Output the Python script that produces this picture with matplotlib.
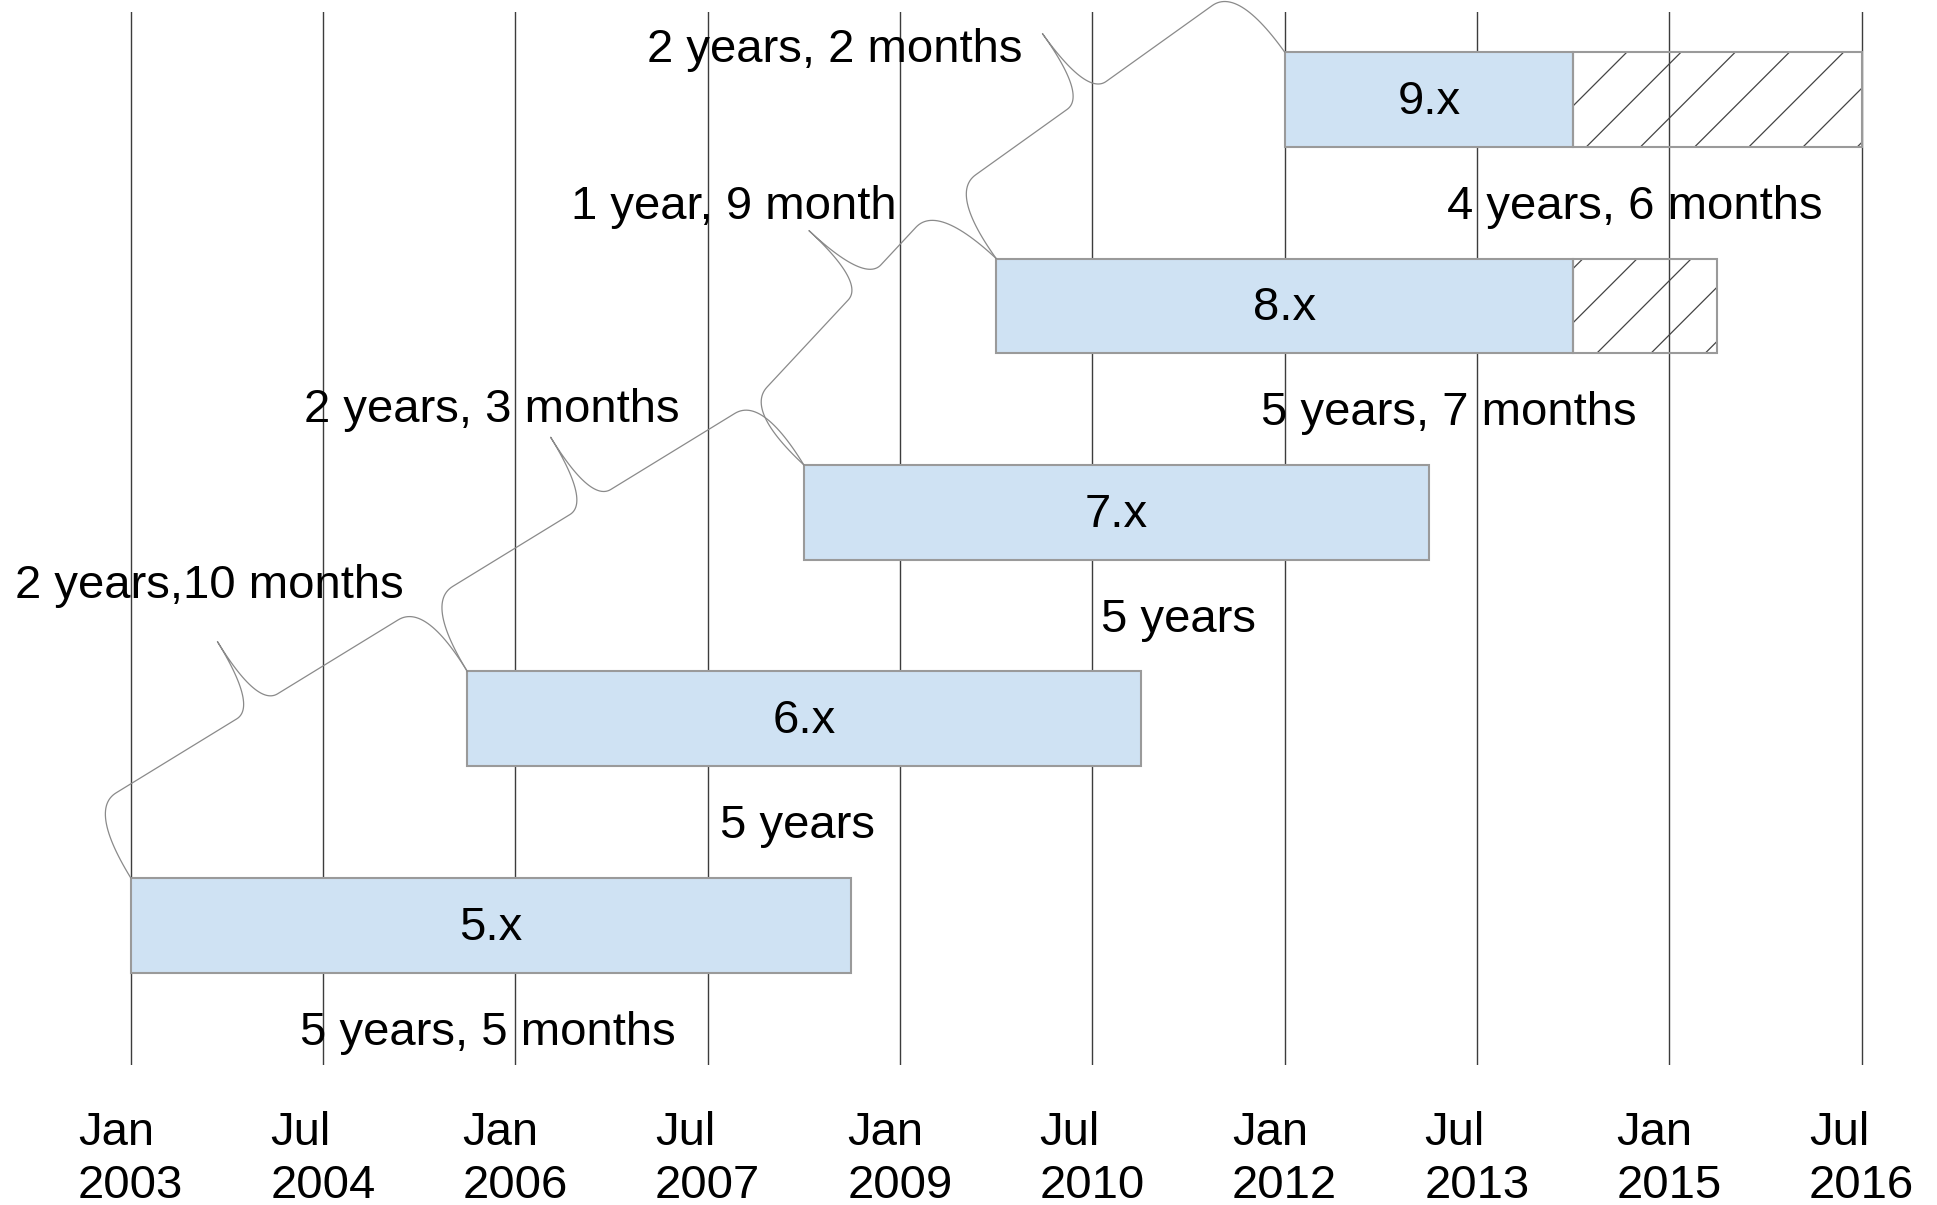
import numpy as np
import matplotlib
matplotlib.use("Agg")
import matplotlib.pyplot as plt

plt.rcParams['font.family'] = ['Liberation Sans', 'DejaVu Sans']

# time axis is in months counted from Jan 2003
versions = ['5.x', '6.x', '7.x', '8.x', '9.x']
release = [0, 31.5, 63, 81, 108]
supported_until = [67.4, 94.6, 121.5, 135, 135]
extended_until = [None, None, None, 148.5, 162]
life_labels = ['5 years, 5 months', '5 years', '5 years',
               '5 years, 7 months', '4 years, 6 months']
gap_labels = ['2 years,10 months', '2 years, 3 months',
              '1 year, 9 month', '2 years, 2 months']

tick_months = [0, 18, 36, 54, 72, 90, 108, 126, 144, 162]
tick_labels = ['Jan\n2003', 'Jul\n2004', 'Jan\n2006', 'Jul\n2007', 'Jan\n2009',
               'Jul\n2010', 'Jan\n2012', 'Jul\n2013', 'Jan\n2015', 'Jul\n2016']

# where the labels sit (x in months, y in rows)
life_label_x = [33.4, 62.4, 98.1, 123.4, 140.8]
gap_label_xy = [(7.4, 1.644), (33.8, 2.494), (56.4, 3.481), (65.9, 4.241)]
brace_tip = [0.5, 0.49, 0.62, 0.475]

BAR_H = 0.46
FS = 34
BLUE = '#cfe2f3'
EDGE = '#9a9a9a'


def quad(p0, p1, p2, k=30):
    t = np.linspace(0, 1, k)[:, None]
    return (1 - t) ** 2 * p0 + 2 * (1 - t) * t * p1 + t ** 2 * p2


def brace(ax, p, q, tip=0.5, h1=80, h2=156, w=32, c=24):
    # curly brace between two points, drawn in pixel space
    tr = ax.transData
    a = tr.transform(p)
    b = tr.transform(q)
    d = b - a
    L = np.hypot(*d)
    u = d / L
    n = np.array([-u[1], u[0]])
    m = tip * L

    def P(s, t):
        return a + s * u + t * n

    pts = np.vstack([
        quad(P(0, 0), P(0, h1), P(w, h1)),
        quad(P(m - c, h1), P(m, h1), P(m, h2)),
        quad(P(m, h2), P(m, h1), P(m + c, h1)),
        quad(P(L - w, h1), P(L, h1), P(L, 0)),
    ])
    xy = tr.inverted().transform(pts)
    ax.plot(xy[:, 0], xy[:, 1], color='#8a8a8a', lw=0.9, clip_on=False, zorder=4)


def hatch_bar(ax, patch, x0, x1, y0, y1, spacing=54.2, phase=474):
    tr = ax.transData
    X0, Y0 = tr.transform((x0, y0))
    X1, Y1 = tr.transform((x1, y1))
    kmin = X0 - Y1
    kmax = X1 - Y0
    j0 = int(np.floor((kmin - phase) / spacing))
    j1 = int(np.ceil((kmax - phase) / spacing))
    inv = tr.inverted()
    for j in range(j0, j1 + 1):
        k = phase + j * spacing
        seg = inv.transform([(k + Y0, Y0), (k + Y1, Y1)])
        ln, = ax.plot(seg[:, 0], seg[:, 1], color='#444444', lw=0.9, zorder=2)
        ln.set_clip_path(patch)


fig = plt.figure(figsize=(19.37, 12.05), dpi=100)
ax = fig.add_axes([0, 0.1162, 1, 0.8738])
ax.set_xlim(-12.23, 169.05)
ax.set_ylim(-0.677, 4.424)
for s in ax.spines.values():
    s.set_visible(False)
ax.set_yticks([])
ax.set_xticks(tick_months, tick_labels)
ax.tick_params(axis='x', length=0, pad=33, labelsize=FS)
for lbl in ax.get_xticklabels():
    lbl.set_linespacing(1.27)
    lbl.set_multialignment('left')
ax.grid(axis='x', color='#3c3c3c', lw=1.0)
ax.set_axisbelow(True)

rows = np.arange(len(versions))
widths = [e - s for s, e in zip(release, supported_until)]
ax.barh(rows, widths, left=release, height=BAR_H, color=BLUE,
        edgecolor=EDGE, lw=1.5, zorder=2)

for i in rows:
    if extended_until[i] is None:
        continue
    x0, x1 = supported_until[i], extended_until[i]
    bars = ax.barh([i], [x1 - x0], left=[x0], height=BAR_H, facecolor='none',
                   edgecolor=EDGE, lw=1.5, zorder=3)
    hatch_bar(ax, bars.patches[0], x0, x1, i - BAR_H / 2, i + BAR_H / 2)

for i in rows:
    mid = (release[i] + supported_until[i]) / 2
    ax.text(mid, i - 0.012, versions[i], ha='center', va='center', fontsize=FS, zorder=5)
    ax.text(life_label_x[i], i - 0.52, life_labels[i], ha='center', va='center',
            fontsize=FS, zorder=5)

for i in range(len(versions) - 1):
    brace(ax, (release[i], i + BAR_H / 2), (release[i + 1], i + 1 + BAR_H / 2),
          tip=brace_tip[i])
    gx, gy = gap_label_xy[i]
    ax.text(gx, gy, gap_labels[i], ha='center', va='center', fontsize=FS, zorder=5)

fig.savefig('out.png', dpi=100, facecolor='white')
